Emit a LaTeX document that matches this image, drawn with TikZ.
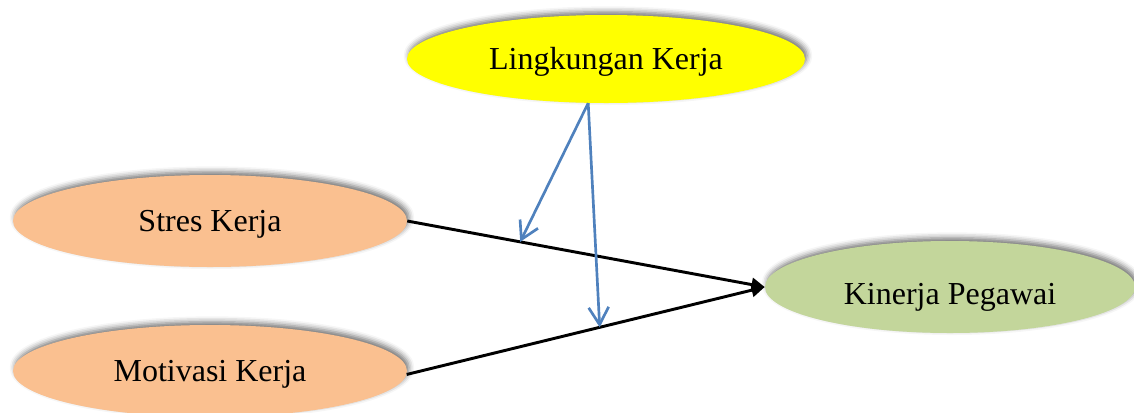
\documentclass[tikz,border=0pt]{standalone}
\usepackage{fontspec}
\setmainfont{Liberation Serif}
\usetikzlibrary{shapes.geometric,shadows.blur,arrows.meta,calc}

\definecolor{varyellow}{HTML}{FFFF00}
\definecolor{varpeach}{HTML}{FAC090}
\definecolor{vargreen}{HTML}{C3D69B}
\definecolor{modblue}{HTML}{4F81BD}

\tikzset{
  var/.style={ellipse, inner sep=0pt, draw=none,
    font=\fontsize{24}{28}\selectfont, text height=16pt, text depth=0pt,
    blur shadow={shadow xshift=1.5pt, shadow yshift=2.5pt,
                 shadow blur radius=4pt, shadow opacity=55}},
  effect/.style={line width=2.2pt, black, -{Triangle[length=10pt,width=10pt]}},
  moderate/.style={line width=2pt, modblue, -{Straight Barb[length=13pt,width=15pt,line width=2pt]}}
}

\begin{document}
\begin{tikzpicture}[x=0.75pt,y=-0.75pt]
  \useasboundingbox (0,0) rectangle (1134,412);
  \clip (0,0) rectangle (1134,412);

  % variables
  \node[var, fill=varyellow, minimum width=298.5pt, minimum height=66pt] (l) at (606,59) {Lingkungan Kerja};
  \node[var, fill=varpeach, minimum width=295.5pt, minimum height=69pt] (s) at (210,221) {Stres Kerja};
  \node[var, fill=varpeach, minimum width=295.5pt, minimum height=69pt] (m) at (210,371) {Motivasi Kerja};
  \node[var, fill=vargreen, minimum width=277.5pt, minimum height=69pt] (k) at (950,287) {\raisebox{-5pt}{Kinerja Pegawai}};

  % direct effects
  \draw[effect] (s.east) -- (k.west);
  \draw[effect] (m.-1.5) -- (k.west);

  % moderating effects onto the paths
  \coordinate (src) at (l.-112);
  \coordinate (p1) at ($(s.east)!0.316!(k.west)$);
  \coordinate (p2) at ($(m.-1.5)!0.539!(k.west)$);
  \draw[moderate] (src) -- (p1);
  \draw[moderate] (src) -- (p2);
\end{tikzpicture}
\end{document}
